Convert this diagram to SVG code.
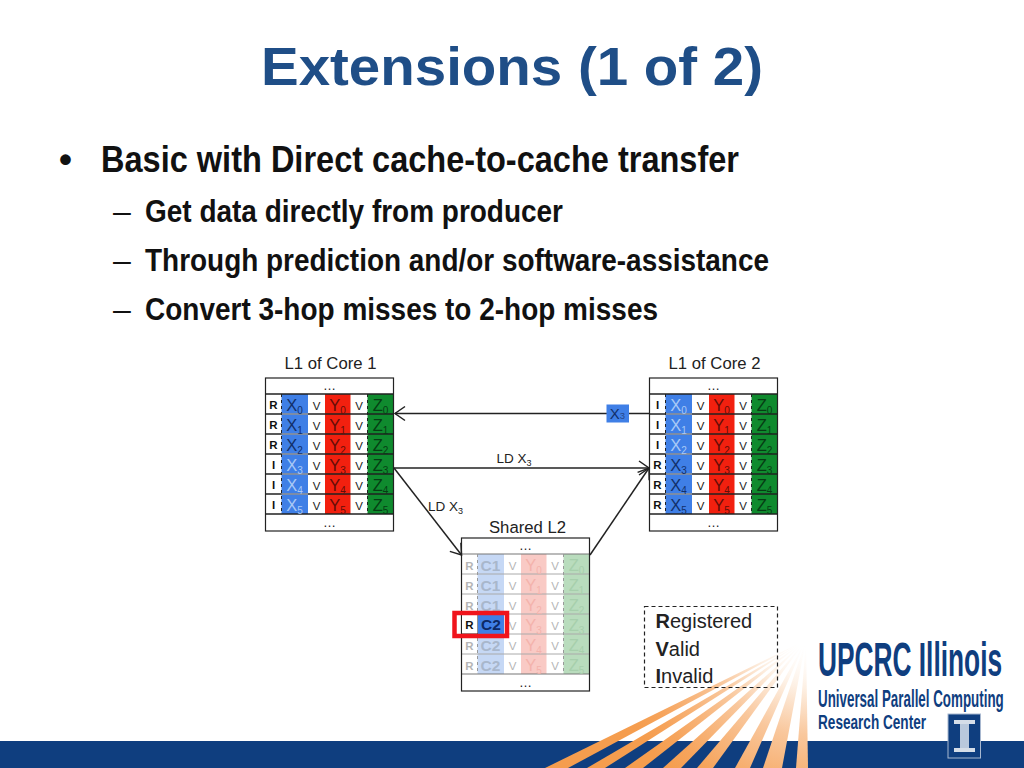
<svg xmlns="http://www.w3.org/2000/svg" xmlns:xlink="http://www.w3.org/1999/xlink" width="1024" height="768" viewBox="0 0 1024 768">
<style>
text{font-family:"Liberation Sans",Arial,sans-serif;fill:#111}
.title{font-size:54px;font-weight:700;fill:#1f4e87}
.b1{font-size:37px;font-weight:700}
.b2{font-size:32px;font-weight:700}
.dash{font-size:32px}
.cap{font-size:16.7px;text-anchor:middle;fill:#222}
.lbl{font-size:13.5px;fill:#222}
.dots{font-size:13px;text-anchor:middle;fill:#222}
.c{text-anchor:middle;font-size:16.5px}
.s{font-size:10px}
.r{text-anchor:middle;font-size:11.5px;font-weight:700}
.v{text-anchor:middle;font-size:11.5px;fill:#222}
.x{fill:#12306a}.xi{fill:#a9c9f6}.y{fill:#650d08}.z{fill:#063d14}
.f{fill:#b9b9b9}.fy{fill:#f4b3ac}.fz{fill:#a7cfac}.fx{fill:#a9b7cc;font-weight:700;font-size:15.5px}
.fv{text-anchor:middle;font-size:11.5px;fill:#b5b5b5}
.fr{text-anchor:middle;font-size:11.5px;font-weight:700;fill:#b5b5b5}
.leg{font-size:20px;fill:#222}
.conn{stroke:#222;stroke-width:1.5;fill:none}
.logo{fill:#0f3e7f;font-weight:700}
</style>
<defs>
<marker id="open" markerUnits="userSpaceOnUse" markerWidth="14" markerHeight="18" refX="12" refY="8" orient="auto">
<path d="M2,1 L12,8 L2,15" fill="none" stroke="#222" stroke-width="1.5"/>
</marker>
<radialGradient id="ray" gradientUnits="userSpaceOnUse" cx="806" cy="640" r="190">
<stop offset="0" stop-color="#fff" stop-opacity="0"/>
<stop offset="0.25" stop-color="#fdf0e4"/>
<stop offset="0.5" stop-color="#f9c79c"/>
<stop offset="0.85" stop-color="#f6a45c"/>
<stop offset="1" stop-color="#f59d4e"/>
</radialGradient>
<g id="grid">
<rect x="0" y="0" width="128" height="153" fill="#fff"/>
<rect x="16" y="16" width="26.5" height="120" fill="#3f7fe6"/>
<rect x="59.5" y="16" width="25.5" height="120" fill="#f2200f"/>
<rect x="102" y="16" width="26" height="120" fill="#0f8a2e"/>
<path d="M0 16H128M0 36H128M0 56H128M0 76H128M0 96H128M0 116H128M0 136H128" stroke="#222" stroke-width="1.5" fill="none"/>
<path d="M16 36H42.5M16 56H42.5M16 76H42.5M16 96H42.5M16 116H42.5" stroke="#cfe0fa" stroke-width="1.2" fill="none"/>
<path d="M16 16V136M102 16V136" stroke="#222" stroke-width="1" stroke-dasharray="3 3" fill="none"/>
<rect x="0" y="0" width="128" height="153" fill="none" stroke="#222" stroke-width="1.2"/>
</g>
<g id="gridf">
<rect x="0" y="0" width="128" height="153" fill="#fff"/>
<rect x="16" y="16" width="26.5" height="120" fill="#c6d8f5"/>
<rect x="59.5" y="16" width="25.5" height="120" fill="#f9cac5"/>
<rect x="102" y="16" width="26" height="120" fill="#b9dcbd"/>
<path d="M0 36H128M0 56H128M0 76H128M0 96H128M0 116H128" stroke="#aaa" stroke-width="1" fill="none"/>
<path d="M0 16H128M0 136H128" stroke="#777" stroke-width="1.2" fill="none"/>
<path d="M16 16V136M102 16V136" stroke="#999" stroke-width="1" stroke-dasharray="3 3" fill="none"/>
<rect x="0" y="0" width="128" height="153" fill="none" stroke="#222" stroke-width="1.2"/>
</g>
</defs>
<rect width="1024" height="768" fill="#fff"/>

<g id="footer">
<rect x="0" y="741" width="1024" height="27" fill="#0f3e7f"/>
<g fill="url(#ray)">
<polygon points="806,640 545,768 568,768"/>
<polygon points="806,640 587,768 605,768"/>
<polygon points="806,640 625,768 643,768"/>
<polygon points="806,640 663,768 681,768"/>
<polygon points="806,640 697,768 713,768"/>
<polygon points="806,640 735,768 750,768"/>
<polygon points="806,640 763,768 782,768"/>
<polygon points="806,640 796,768 808,768"/>
</g>
</g>

<g id="heading">
<text class="title" x="261" y="85" textLength="502" lengthAdjust="spacingAndGlyphs">Extensions (1 of 2)</text>
<text class="b1" x="59" y="172">•</text>
<text class="b1" x="101" y="172" textLength="638" lengthAdjust="spacingAndGlyphs">Basic with Direct cache-to-cache transfer</text>
<text class="dash" x="113" y="222">–</text>
<text class="b2" x="145" y="222" textLength="418" lengthAdjust="spacingAndGlyphs">Get data directly from producer</text>
<text class="dash" x="113" y="271">–</text>
<text class="b2" x="145" y="271" textLength="624" lengthAdjust="spacingAndGlyphs">Through prediction and/or software-assistance</text>
<text class="dash" x="113" y="320">–</text>
<text class="b2" x="145" y="320" textLength="513" lengthAdjust="spacingAndGlyphs">Convert 3-hop misses to 2-hop misses</text>
</g>

<g id="l1-core-1" transform="translate(265.5,378)">
<text class="cap" x="65" y="-9">L1 of Core 1</text>
<use xlink:href="#grid" href="#grid"/>
<text class="dots" x="64" y="12">…</text><text class="dots" x="64" y="149">…</text>
<text class="r" x="8" y="31">R</text><text class="c x" x="29" y="33">X<tspan class="s" dy="3">0</tspan></text><text class="v" x="51" y="32">V</text><text class="c y" x="72" y="33">Y<tspan class="s" dy="3">0</tspan></text><text class="v" x="93.5" y="32">V</text><text class="c z" x="115" y="33">Z<tspan class="s" dy="3">0</tspan></text>
<text class="r" x="8" y="51">R</text><text class="c x" x="29" y="53">X<tspan class="s" dy="3">1</tspan></text><text class="v" x="51" y="52">V</text><text class="c y" x="72" y="53">Y<tspan class="s" dy="3">1</tspan></text><text class="v" x="93.5" y="52">V</text><text class="c z" x="115" y="53">Z<tspan class="s" dy="3">1</tspan></text>
<text class="r" x="8" y="71">R</text><text class="c x" x="29" y="73">X<tspan class="s" dy="3">2</tspan></text><text class="v" x="51" y="72">V</text><text class="c y" x="72" y="73">Y<tspan class="s" dy="3">2</tspan></text><text class="v" x="93.5" y="72">V</text><text class="c z" x="115" y="73">Z<tspan class="s" dy="3">2</tspan></text>
<text class="r" x="8" y="91">I</text><text class="c xi" x="29" y="93">X<tspan class="s" dy="3">3</tspan></text><text class="v" x="51" y="92">V</text><text class="c y" x="72" y="93">Y<tspan class="s" dy="3">3</tspan></text><text class="v" x="93.5" y="92">V</text><text class="c z" x="115" y="93">Z<tspan class="s" dy="3">3</tspan></text>
<text class="r" x="8" y="111">I</text><text class="c xi" x="29" y="113">X<tspan class="s" dy="3">4</tspan></text><text class="v" x="51" y="112">V</text><text class="c y" x="72" y="113">Y<tspan class="s" dy="3">4</tspan></text><text class="v" x="93.5" y="112">V</text><text class="c z" x="115" y="113">Z<tspan class="s" dy="3">4</tspan></text>
<text class="r" x="8" y="131">I</text><text class="c xi" x="29" y="133">X<tspan class="s" dy="3">5</tspan></text><text class="v" x="51" y="132">V</text><text class="c y" x="72" y="133">Y<tspan class="s" dy="3">5</tspan></text><text class="v" x="93.5" y="132">V</text><text class="c z" x="115" y="133">Z<tspan class="s" dy="3">5</tspan></text>
</g>

<g id="l1-core-2" transform="translate(649.5,378)">
<text class="cap" x="65" y="-9">L1 of Core 2</text>
<use xlink:href="#grid" href="#grid"/>
<text class="dots" x="64" y="12">…</text><text class="dots" x="64" y="149">…</text>
<text class="r" x="8" y="31">I</text><text class="c xi" x="29" y="33">X<tspan class="s" dy="3">0</tspan></text><text class="v" x="51" y="32">V</text><text class="c y" x="72" y="33">Y<tspan class="s" dy="3">0</tspan></text><text class="v" x="93.5" y="32">V</text><text class="c z" x="115" y="33">Z<tspan class="s" dy="3">0</tspan></text>
<text class="r" x="8" y="51">I</text><text class="c xi" x="29" y="53">X<tspan class="s" dy="3">1</tspan></text><text class="v" x="51" y="52">V</text><text class="c y" x="72" y="53">Y<tspan class="s" dy="3">1</tspan></text><text class="v" x="93.5" y="52">V</text><text class="c z" x="115" y="53">Z<tspan class="s" dy="3">1</tspan></text>
<text class="r" x="8" y="71">I</text><text class="c xi" x="29" y="73">X<tspan class="s" dy="3">2</tspan></text><text class="v" x="51" y="72">V</text><text class="c y" x="72" y="73">Y<tspan class="s" dy="3">2</tspan></text><text class="v" x="93.5" y="72">V</text><text class="c z" x="115" y="73">Z<tspan class="s" dy="3">2</tspan></text>
<text class="r" x="8" y="91">R</text><text class="c x" x="29" y="93">X<tspan class="s" dy="3">3</tspan></text><text class="v" x="51" y="92">V</text><text class="c y" x="72" y="93">Y<tspan class="s" dy="3">3</tspan></text><text class="v" x="93.5" y="92">V</text><text class="c z" x="115" y="93">Z<tspan class="s" dy="3">3</tspan></text>
<text class="r" x="8" y="111">R</text><text class="c x" x="29" y="113">X<tspan class="s" dy="3">4</tspan></text><text class="v" x="51" y="112">V</text><text class="c y" x="72" y="113">Y<tspan class="s" dy="3">4</tspan></text><text class="v" x="93.5" y="112">V</text><text class="c z" x="115" y="113">Z<tspan class="s" dy="3">4</tspan></text>
<text class="r" x="8" y="131">R</text><text class="c x" x="29" y="133">X<tspan class="s" dy="3">5</tspan></text><text class="v" x="51" y="132">V</text><text class="c y" x="72" y="133">Y<tspan class="s" dy="3">5</tspan></text><text class="v" x="93.5" y="132">V</text><text class="c z" x="115" y="133">Z<tspan class="s" dy="3">5</tspan></text>
</g>

<g id="shared-l2" transform="translate(461.5,538)">
<text class="cap" x="66" y="-5">Shared L2</text>
<use xlink:href="#gridf" href="#gridf"/>
<text class="dots" x="64" y="12">…</text><text class="dots" x="64" y="149">…</text>
<text class="fr" x="8" y="32">R</text><text class="c fx" x="29" y="33">C1</text><text class="fv" x="51" y="32">V</text><text class="c fy" x="72" y="33">Y<tspan class="s" dy="3">0</tspan></text><text class="fv" x="93.5" y="32">V</text><text class="c fz" x="115" y="33">Z<tspan class="s" dy="3">0</tspan></text>
<text class="fr" x="8" y="52">R</text><text class="c fx" x="29" y="53">C1</text><text class="fv" x="51" y="52">V</text><text class="c fy" x="72" y="53">Y<tspan class="s" dy="3">1</tspan></text><text class="fv" x="93.5" y="52">V</text><text class="c fz" x="115" y="53">Z<tspan class="s" dy="3">1</tspan></text>
<text class="fr" x="8" y="72">R</text><text class="c fx" x="29" y="73">C1</text><text class="fv" x="51" y="72">V</text><text class="c fy" x="72" y="73">Y<tspan class="s" dy="3">2</tspan></text><text class="fv" x="93.5" y="72">V</text><text class="c fz" x="115" y="73">Z<tspan class="s" dy="3">2</tspan></text>
<rect x="0" y="76" width="16.5" height="20" fill="#fff" stroke="#222" stroke-width="1"/>
<rect x="16.5" y="76" width="26" height="20" fill="#3f7fe6"/>
<text class="r" x="8" y="91">R</text><text class="c" x="29.5" y="92" style="font-weight:700;font-size:15.5px;fill:#0d2a66">C2</text><text class="fv" x="51" y="92">V</text><text class="c fy" x="72" y="93">Y<tspan class="s" dy="3">3</tspan></text><text class="fv" x="93.5" y="92">V</text><text class="c fz" x="115" y="93">Z<tspan class="s" dy="3">3</tspan></text>
<text class="fr" x="8" y="112">R</text><text class="c fx" x="29" y="113">C2</text><text class="fv" x="51" y="112">V</text><text class="c fy" x="72" y="113">Y<tspan class="s" dy="3">4</tspan></text><text class="fv" x="93.5" y="112">V</text><text class="c fz" x="115" y="113">Z<tspan class="s" dy="3">4</tspan></text>
<text class="fr" x="8" y="132">R</text><text class="c fx" x="29" y="133">C2</text><text class="fv" x="51" y="132">V</text><text class="c fy" x="72" y="133">Y<tspan class="s" dy="3">5</tspan></text><text class="fv" x="93.5" y="132">V</text><text class="c fz" x="115" y="133">Z<tspan class="s" dy="3">5</tspan></text>
<rect x="-7" y="75" width="52.5" height="23" fill="none" stroke="#f0141c" stroke-width="4.5"/>
</g>

<g id="connectors">
<line class="conn" x1="650" y1="413.5" x2="395" y2="413.5" marker-end="url(#open)"/>
<line class="conn" x1="394" y1="468" x2="649" y2="468" marker-end="url(#open)"/>
<line class="conn" x1="394" y1="468" x2="461.5" y2="555" marker-end="url(#open)"/>
<line class="conn" x1="590" y1="555" x2="649" y2="468" marker-end="url(#open)"/>
</g>

<g id="packet-x3">
<rect x="606.5" y="404.5" width="22.5" height="18" fill="#3f7fe6"/>
<text x="617.5" y="418.5" text-anchor="middle" font-size="15" style="fill:#12306a">X<tspan font-size="9.5" dy="0.5" style="fill:#27478a">3</tspan></text>
</g>

<g id="labels">
<text class="lbl" x="496.5" y="463">LD X<tspan font-size="9" dy="3">3</tspan></text>
<text class="lbl" x="428" y="511">LD X<tspan font-size="9" dy="3">3</tspan></text>
</g>

<g id="legend">
<rect x="644.5" y="606.5" width="133" height="81" fill="none" stroke="#222" stroke-width="1.2" stroke-dasharray="4 3"/>
<text class="leg" x="655.5" y="628"><tspan font-weight="700">R</tspan>egistered</text>
<text class="leg" x="655.5" y="655.5"><tspan font-weight="700">V</tspan>alid</text>
<text class="leg" x="655.5" y="683"><tspan font-weight="700">I</tspan>nvalid</text>
</g>

<g id="logo">
<text class="logo" transform="translate(818,676) scale(0.548,1)" x="0" y="0" font-size="48">UPCRC Illinois</text>
<text class="logo" transform="translate(818,707) scale(0.582,1)" x="0" y="0" font-size="23">Universal Parallel Computing</text>
<text class="logo" transform="translate(818,729) scale(0.68,1)" x="0" y="0" font-size="20">Research Center</text>
<rect x="948" y="714" width="32.5" height="44" fill="#0f3e7f" stroke="#a8b8d0" stroke-width="1"/>
<rect x="954" y="720" width="21" height="4" fill="#d5dde8"/>
<rect x="960" y="724" width="9" height="24" fill="#b9c8dc"/>
<rect x="954" y="748" width="21" height="4" fill="#d5dde8"/>
</g>
</svg>
